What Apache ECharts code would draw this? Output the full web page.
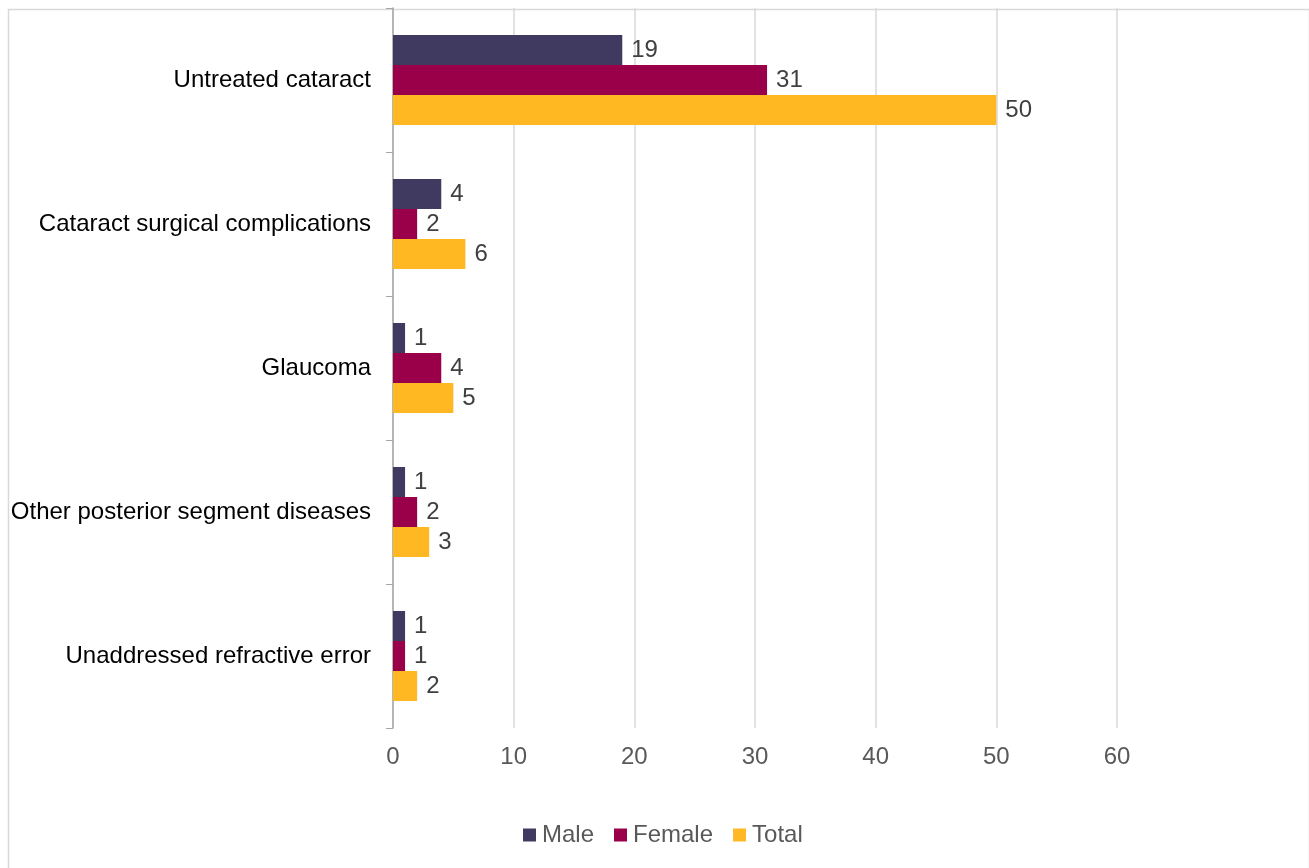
<!DOCTYPE html>
<html>
<head>
<meta charset="utf-8">
<script src="https://cdn.jsdelivr.net/npm/echarts@6/dist/echarts.min.js"></script>
<style>
  html, body { margin: 0; padding: 0; background: #ffffff; }
  #chart { width: 1309px; height: 868px; }
</style>
</head>
<body>
<div id="chart"></div>
<script>
// Causes of blindness, counts by sex
const categories = [
  'Untreated cataract',
  'Cataract surgical complications',
  'Glaucoma',
  'Other posterior segment diseases',
  'Unaddressed refractive error'
];
const maleValues = [19, 4, 1, 1, 1];
const femaleValues = [31, 2, 4, 2, 1];
const totalValues = [50, 6, 5, 3, 2];
const seriesNames = ['Male', 'Female', 'Total'];
const seriesColors = ['#403a60', '#990049', '#ffb822'];

const fontFamily = 'Liberation Sans, Arial, sans-serif';

const chart = echarts.init(document.getElementById('chart'), null, { renderer: 'canvas' });

function barSeries(name, data, color) {
  return {
    name: name,
    type: 'bar',
    data: data,
    barGap: '0%',
    barCategoryGap: '37.5%',
    itemStyle: { color: color },
    label: {
      show: true,
      position: 'right',
      distance: 9,
      fontSize: 24,
      fontFamily: fontFamily,
      color: '#404040'
    },
    emphasis: { disabled: true }
  };
}

chart.setOption({
  animation: false,
  backgroundColor: '#ffffff',
  graphic: [{
    type: 'rect',
    left: 6,
    top: 7,
    shape: { width: 1301, height: 880 },
    style: { fill: 'none', stroke: '#d9d9d9', lineWidth: 1.5 },
    silent: true,
    z: -10
  }],
  grid: { left: 393, right: 192, top: 8, bottom: 140, containLabel: false },
  legend: {
    data: seriesNames,
    bottom: 16,
    left: 518,
    padding: [5, 5, 5, 5],
    icon: 'rect',
    itemWidth: 13,
    itemHeight: 13,
    itemGap: 20,
    textStyle: { fontSize: 24, fontFamily: fontFamily, color: '#595959', padding: [0, 0, 0, 1] }
  },
  xAxis: {
    type: 'value',
    min: 0,
    max: 60,
    interval: 10,
    axisLine: { show: false },
    axisTick: { show: false },
    splitLine: { show: true, lineStyle: { color: '#d9d9d9', width: 1.5 } },
    axisLabel: { fontSize: 24, fontFamily: fontFamily, color: '#595959', margin: 17 }
  },
  yAxis: {
    type: 'category',
    data: categories,
    inverse: true,
    axisLine: { show: true, lineStyle: { color: '#a6a6a6', width: 1.5 } },
    axisTick: { show: true, length: 7, inside: false, lineStyle: { color: '#a6a6a6' } },
    axisLabel: { fontSize: 24, fontFamily: fontFamily, color: '#000000', margin: 22 },
    splitLine: { show: false }
  },
  series: [
    barSeries(seriesNames[0], maleValues, seriesColors[0]),
    barSeries(seriesNames[1], femaleValues, seriesColors[1]),
    barSeries(seriesNames[2], totalValues, seriesColors[2])
  ]
});
</script>
</body>
</html>
